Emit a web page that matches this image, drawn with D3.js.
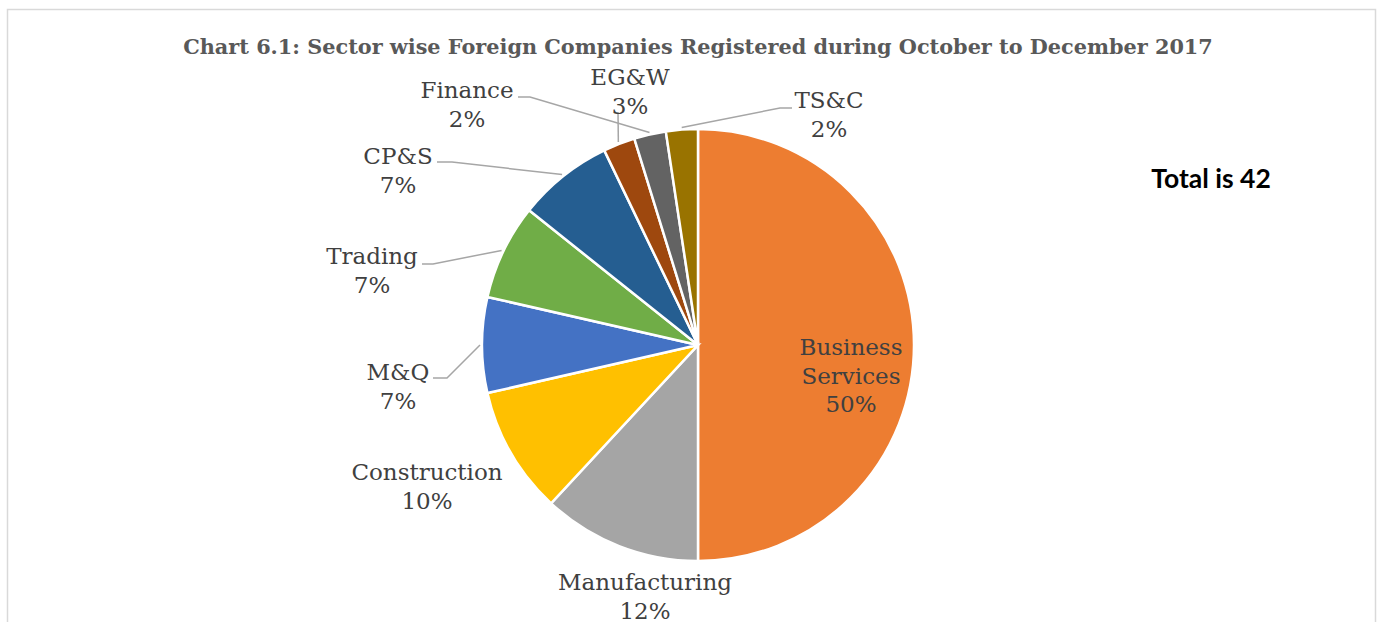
<!DOCTYPE html>
<html>
<head>
<meta charset="utf-8">
<script src="https://cdn.jsdelivr.net/npm/d3@7"></script>
<style>
  html, body { margin: 0; padding: 0; background: #fff; }
  svg { display: block; }
</style>
</head>
<body>
<div id="chart"></div>
<script>
// chart size
var width = 1378;
var height = 622;

// data (total is 42 companies)
var sectors = ["Business Services", "Manufacturing", "Construction", "M&Q", "Trading", "CP&S", "EG&W", "Finance", "TS&C"];
var counts = [21, 5, 4, 3, 3, 3, 1, 1, 1];
var pctLabels = ["50%", "12%", "10%", "7%", "7%", "7%", "3%", "2%", "2%"];
var colors = ["#ED7D31", "#A5A5A5", "#FFC000", "#4472C4", "#70AD47", "#255E91", "#9E480E", "#636363", "#997300"];

// label placement, relative to pie centre: [x, y of first line, elbow x, elbow y, line end x]
var labelLayout = [
    [153, 2, null, null, null],
    [-53, 237, null, null, null],
    [-271, 127, null, null, null],
    [-300, 27, -251, 33, -265],
    [-326, -89, -265, -81, -276],
    [-300, -189, -246, -183, -261],
    [-68, -268, -80, -233, -80],
    [-231, -255, -168, -248, -180],
    [131, -245, 82, -237, 94]
];

var cx = 698, cy = 345, radius = 216;

var svg = d3.select("#chart")
    .append("svg")
    .attr("width", width)
    .attr("height", height);

// chart frame
svg.append("rect")
    .attr("x", 7.5)
    .attr("y", 9.5)
    .attr("width", 1368)
    .attr("height", 640)
    .attr("fill", "none")
    .attr("stroke", "#D9D9D9")
    .attr("stroke-width", 1.5);

// title
svg.append("text")
    .attr("x", cx)
    .attr("y", 54)
    .attr("text-anchor", "middle")
    .style("font-family", "'DejaVu Serif', serif")
    .style("font-weight", "bold")
    .style("font-size", "20.8px")
    .style("fill", "#595959")
    .text("Chart 6.1: Sector wise Foreign Companies Registered during October to December 2017");

var data = sectors.map(function(s, i) {
    return { name: s, value: counts[i], pct: pctLabels[i], color: colors[i], layout: labelLayout[i] };
});

var pie = d3.pie()
    .sort(null)
    .value(function(d) { return d.value; });

var arc = d3.arc()
    .innerRadius(0)
    .outerRadius(radius);

var edgeArc = d3.arc()
    .innerRadius(radius + 2)
    .outerRadius(radius + 2);

var g = svg.append("g")
    .attr("transform", "translate(" + cx + "," + cy + ")");

var arcs = pie(data);

g.selectAll("path.slice")
    .data(arcs)
    .enter()
    .append("path")
    .attr("class", "slice")
    .attr("d", arc)
    .style("fill", function(d) { return d.data.color; })
    .style("stroke", "#fff")
    .style("stroke-width", 2.5);

// leader lines
g.selectAll("polyline.leader")
    .data(arcs.filter(function(d) { return d.data.layout[2] !== null; }))
    .enter()
    .append("polyline")
    .attr("class", "leader")
    .attr("points", function(d) {
        var p = edgeArc.centroid(d);
        var l = d.data.layout;
        return [p, [l[2], l[3]], [l[4], l[3]]].map(function(q) { return q.join(","); }).join(" ");
    })
    .style("fill", "none")
    .style("stroke", "#A6A6A6")
    .style("stroke-width", 1.5);

// labels
var lineGap = 28.5;
var labels = g.selectAll("text.label")
    .data(arcs)
    .enter()
    .append("text")
    .attr("class", "label")
    .attr("text-anchor", "middle")
    .attr("dominant-baseline", "central")
    .style("font-family", "'DejaVu Serif', serif")
    .style("font-size", "23px")
    .style("fill", "#404040");

labels.each(function(d) {
    var lines = d.data.name === "Business Services" ? ["Business", "Services"] : [d.data.name];
    lines.push(d.data.pct);
    var t = d3.select(this);
    lines.forEach(function(line, i) {
        t.append("tspan")
            .attr("x", d.data.layout[0])
            .attr("y", d.data.layout[1] + i * lineGap)
            .text(line);
    });
});

// total note
svg.append("text")
    .attr("x", 1211)
    .attr("y", 188)
    .attr("text-anchor", "middle")
    .style("font-family", "Lato, 'Open Sans', sans-serif")
    .style("font-weight", "bold")
    .style("font-size", "26.5px")
    .style("fill", "#000")
    .text("Total is 42");
</script>
</body>
</html>
